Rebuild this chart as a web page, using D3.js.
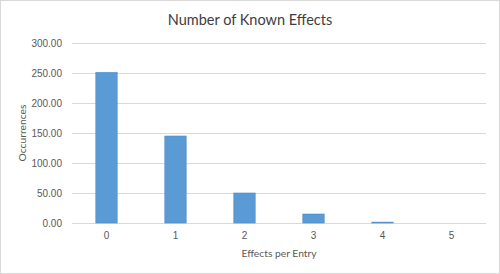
<!DOCTYPE html>
<html>
<head>
<meta charset="utf-8">
<script src="https://cdn.jsdelivr.net/npm/d3@7"></script>
<style>
  body { margin: 0; background: #fff; }
  svg { display: block; font-family: Lato, "Open Sans", sans-serif; }
</style>
</head>
<body>
<div id="wrapper"></div>
<script>
const categories = ["0", "1", "2", "3", "4", "5"]
const occurrences = [251, 145, 50, 15, 1.5, 0]
const yTicks = [0, 50, 100, 150, 200, 250, 300]

function drawBars() {
  const dataset = categories.map((c, i) => ({ category: c, value: occurrences[i] }))
  const xAccessor = d => d.category
  const yAccessor = d => d.value

  let dimensions = {
    width: 500,
    height: 274,
    margin: { top: 43, right: 14, bottom: 51, left: 72 },
  }
  dimensions.boundedWidth = dimensions.width - dimensions.margin.left - dimensions.margin.right
  dimensions.boundedHeight = dimensions.height - dimensions.margin.top - dimensions.margin.bottom

  const wrapper = d3.select("#wrapper")
    .append("svg")
      .attr("width", dimensions.width)
      .attr("height", dimensions.height)

  // outer frame
  wrapper.append("rect")
    .attr("x", 0.5).attr("y", 0.5)
    .attr("width", dimensions.width - 1).attr("height", dimensions.height - 1)
    .attr("fill", "#fff")
    .attr("stroke", "#d9d9d9")

  const bounds = wrapper.append("g")
    .attr("transform", `translate(${dimensions.margin.left},${dimensions.margin.top})`)

  const xScale = d3.scaleBand()
    .domain(categories)
    .range([0, dimensions.boundedWidth])
    .paddingInner(0.69)
    .paddingOuter(0.345)

  const yScale = d3.scaleLinear()
    .domain([0, 300])
    .range([dimensions.boundedHeight, 0])

  // gridlines
  bounds.append("g")
    .selectAll("line")
    .data(yTicks)
    .join("line")
      .attr("x1", 0)
      .attr("x2", dimensions.boundedWidth)
      .attr("y1", d => Math.round(yScale(d)) + 0.5)
      .attr("y2", d => Math.round(yScale(d)) + 0.5)
      .attr("stroke", "#d9d9d9")

  // bars
  bounds.append("g")
    .selectAll("rect")
    .data(dataset)
    .join("rect")
      .attr("x", d => xScale(xAccessor(d)))
      .attr("y", d => yScale(yAccessor(d)))
      .attr("width", xScale.bandwidth())
      .attr("height", d => dimensions.boundedHeight - yScale(yAccessor(d)))
      .attr("fill", "#5b9bd5")
      .attr("stroke", d => yAccessor(d) > 0 ? "#4f8cc4" : "none")
      .attr("stroke-width", 0.6)

  // y axis
  const yAxisGenerator = d3.axisLeft(yScale)
    .tickValues(yTicks)
    .tickFormat(d3.format(".2f"))
    .tickSize(0)
    .tickPadding(10)
  const yAxis = bounds.append("g").call(yAxisGenerator)
  yAxis.select(".domain").remove()
  yAxis.selectAll("text")
    .attr("fill", "#595959")
    .style("font-size", "10px")

  // x axis
  const xAxisGenerator = d3.axisBottom(xScale)
    .tickSize(0)
    .tickPadding(9)
  const xAxis = bounds.append("g")
    .attr("transform", `translate(0,${dimensions.boundedHeight})`)
    .call(xAxisGenerator)
  xAxis.select(".domain").remove()
  xAxis.selectAll("text")
    .attr("fill", "#595959")
    .style("font-size", "10px")

  // titles
  wrapper.append("text")
    .attr("x", 250)
    .attr("y", 25)
    .attr("text-anchor", "middle")
    .attr("fill", "#404040")
    .style("font-size", "14.5px")
    .text("Number of Known Effects")

  wrapper.append("text")
    .attr("x", dimensions.margin.left + dimensions.boundedWidth / 2)
    .attr("y", 257)
    .attr("text-anchor", "middle")
    .attr("fill", "#595959")
    .style("font-size", "10.3px")
    .text("Effects per Entry")

  wrapper.append("text")
    .attr("transform", `translate(26,${dimensions.margin.top + dimensions.boundedHeight / 2}) rotate(-90)`)
    .attr("text-anchor", "middle")
    .attr("fill", "#595959")
    .style("font-size", "10.3px")
    .text("Occurrences")
}
drawBars()
</script>
</body>
</html>
